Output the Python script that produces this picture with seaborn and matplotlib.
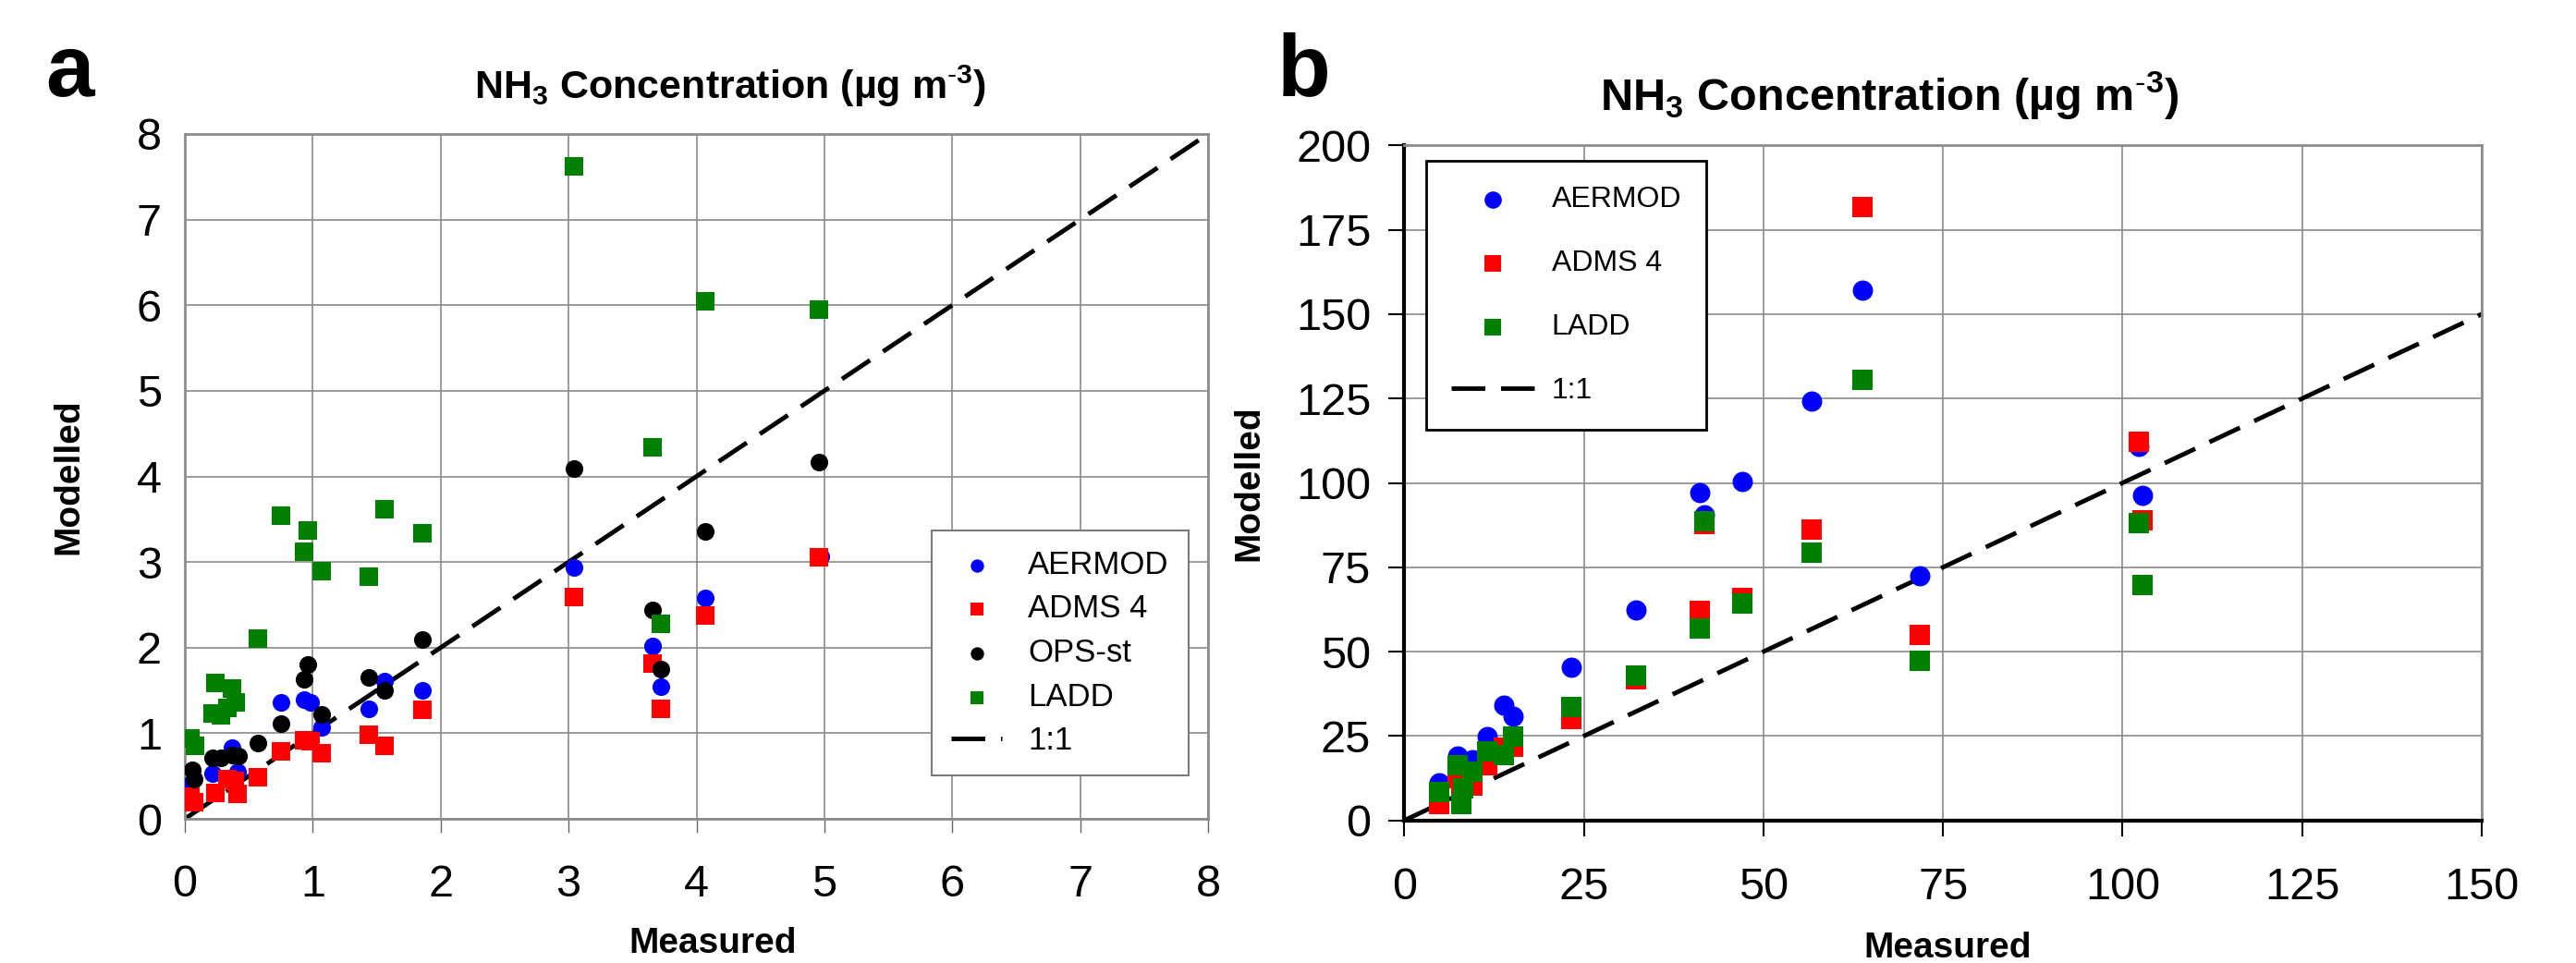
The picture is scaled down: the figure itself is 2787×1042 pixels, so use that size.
import numpy as np
import pandas as pd
import matplotlib
matplotlib.use("Agg")
import matplotlib.pyplot as plt
import seaborn as sns

# ---------------- Panel a data ----------------
a_aermod_x = [0.02, 0.22, 0.37, 0.41, 0.75, 0.93, 0.98, 1.07, 1.44, 1.56, 1.86, 3.04, 3.66, 3.72, 4.07, 4.97]
a_aermod_y = [0.39, 0.53, 0.83, 0.55, 1.36, 1.39, 1.36, 1.07, 1.28, 1.61, 1.50, 2.94, 2.02, 1.54, 2.58, 3.07]

a_adms_x = [0.04, 0.07, 0.24, 0.33, 0.39, 0.41, 0.57, 0.75, 0.93, 0.98, 1.07, 1.44, 1.56, 1.86, 3.04, 3.66, 3.72, 4.07, 4.96]
a_adms_y = [0.26, 0.19, 0.30, 0.46, 0.44, 0.29, 0.49, 0.79, 0.92, 0.91, 0.77, 0.98, 0.85, 1.27, 2.59, 1.81, 1.28, 2.37, 3.05]

a_ops_x = [0.06, 0.07, 0.22, 0.28, 0.37, 0.42, 0.57, 0.75, 0.93, 0.96, 1.07, 1.44, 1.56, 1.86, 3.04, 3.66, 3.72, 4.07, 4.96]
a_ops_y = [0.57, 0.46, 0.71, 0.71, 0.75, 0.73, 0.89, 1.11, 1.63, 1.80, 1.22, 1.65, 1.50, 2.09, 4.09, 2.44, 1.75, 3.36, 4.17]

a_ladd_x = [0.04, 0.08, 0.22, 0.24, 0.28, 0.33, 0.37, 0.40, 0.57, 0.75, 0.93, 0.96, 1.07, 1.44, 1.56, 1.86, 3.04, 3.66, 3.72, 4.07, 4.96]
a_ladd_y = [0.94, 0.85, 1.23, 1.59, 1.21, 1.30, 1.52, 1.36, 2.11, 3.54, 3.12, 3.37, 2.89, 2.83, 3.62, 3.34, 7.62, 4.34, 2.28, 6.05, 5.95]

# ---------------- Panel b data ----------------
b_measured = [4.8, 7.4, 8.0, 8.2, 9.5, 11.5, 13.8, 15.1, 23.2, 32.2, 41.2, 41.8, 47.0, 56.7, 63.8, 71.8, 102.2, 102.8]
b_aermod = [11.2, 19.0, 8.0, 12.0, 18.1, 24.9, 34.1, 30.9, 45.5, 62.3, 97.2, 90.6, 100.4, 124.3, 157.1, 72.5, 110.8, 96.4]
b_adms = [4.8, 12.6, 7.0, 11.2, 10.3, 16.3, 21.5, 21.7, 30.0, 41.8, 62.2, 87.8, 65.8, 86.2, 181.8, 54.9, 112.2, 88.9]
b_ladd = [8.5, 16.3, 4.8, 9.4, 14.4, 20.4, 19.4, 24.9, 33.6, 43.0, 56.9, 88.7, 64.2, 79.4, 130.4, 47.2, 88.1, 69.7]

a_ticks = [0, 1, 2, 3, 4, 5, 6, 7, 8]
b_xticks = [0, 25, 50, 75, 100, 125, 150]
b_yticks = [0, 25, 50, 75, 100, 125, 150, 175, 200]

title_text = r"NH$_\mathbf{3}$ Concentration (µg m$^\mathbf{\text{-}3}$)"

sns.set_theme(style="white")
plt.rcParams['font.family'] = ['Liberation Sans', 'DejaVu Sans']
plt.rcParams['mathtext.fontset'] = 'custom'
plt.rcParams['mathtext.bf'] = 'Liberation Sans:bold'
plt.rcParams['mathtext.rm'] = 'Liberation Sans'
for k in ['text.color', 'axes.labelcolor', 'xtick.color', 'ytick.color']:
    plt.rcParams[k] = 'black'

W, H = 2787, 1042
fig = plt.figure(figsize=(W / 100, H / 100), dpi=100)
fig.patch.set_facecolor('white')

BLUE, RED, BLACK, GREEN = '#0000FF', '#FF0000', '#000000', '#008000'
GRID = '#8a8a8a'
DASH = (7.5, 3.5)

# ---------------- Panel a ----------------
axa = fig.add_axes([200 / W, 1 - 886 / H, 1107 / W, 741 / H])
sa = 190
sns.scatterplot(x=a_aermod_x, y=a_aermod_y, ax=axa, color=BLUE, marker='o', s=sa, linewidth=0, label='AERMOD', zorder=3)
sns.scatterplot(x=a_adms_x, y=a_adms_y, ax=axa, color=RED, marker='s', s=sa, linewidth=0, label='ADMS 4', zorder=3)
sns.scatterplot(x=a_ops_x, y=a_ops_y, ax=axa, color=BLACK, marker='o', s=sa, linewidth=0, label='OPS-st', zorder=3)
sns.scatterplot(x=a_ladd_x, y=a_ladd_y, ax=axa, color=GREEN, marker='s', s=sa, linewidth=0, label='LADD', zorder=3)
axa.plot([a_ticks[0], a_ticks[-1]], [a_ticks[0], a_ticks[-1]], color='black', lw=3.5, dashes=DASH, label='1:1', zorder=2)
axa.set_xlim(0, 8)
axa.set_ylim(0, 8)
axa.set_xticks(a_ticks)
axa.set_yticks(a_ticks)
axa.grid(True, color=GRID, lw=1.2)
axa.set_axisbelow(True)
for sp in axa.spines.values():
    sp.set_color('#8c8c8c')
    sp.set_linewidth(2)
axa.tick_params(axis='x', direction='out', length=11, width=1, color='#666666', labelsize=35, pad=24, bottom=True)
axa.tick_params(axis='y', direction='out', length=0, labelsize=35, pad=18, left=True)
axa.set_xlabel('Measured', fontsize=28, fontweight='bold')
axa.set_ylabel('Modelled', fontsize=28, fontweight='bold')
axa.xaxis.set_label_coords(0.516, -0.158)
axa.yaxis.set_label_coords(-0.097, 0.5)
h, l = axa.get_legend_handles_labels()
lega = axa.legend(h, l, loc='upper left', bbox_to_anchor=(0.730, 0.421), borderaxespad=0,
                  fontsize=25, frameon=True, fancybox=False, edgecolor='#7a7a7a', framealpha=1,
                  handlelength=1.6, handletextpad=0.8, labelspacing=0.42, borderpad=0.6, markerscale=0.75)
lega.get_frame().set_linewidth(1.5)

# ---------------- Panel b ----------------
axb = fig.add_axes([1519.3 / W, 1 - 887.7 / H, 1165.7 / W, 730.4 / H])
sb = 250
sns.scatterplot(x=b_measured, y=b_aermod, ax=axb, color=BLUE, marker='o', s=sb, linewidth=0, label='AERMOD', zorder=3)
sns.scatterplot(x=b_measured, y=b_adms, ax=axb, color=RED, marker='s', s=sb, linewidth=0, label='ADMS 4', zorder=3)
sns.scatterplot(x=b_measured, y=b_ladd, ax=axb, color=GREEN, marker='s', s=sb, linewidth=0, label='LADD', zorder=3)
axb.plot([b_xticks[0], b_xticks[-1]], [b_xticks[0], b_xticks[-1]], color='black', lw=3.5, dashes=DASH, label='1:1', zorder=2)
axb.set_xlim(0, 150)
axb.set_ylim(0, 200)
axb.set_xticks(b_xticks)
axb.set_yticks(b_yticks)
axb.grid(True, color=GRID, lw=1.2)
axb.set_axisbelow(True)
for side in ['top', 'right']:
    axb.spines[side].set_color('#8c8c8c')
    axb.spines[side].set_linewidth(2)
for side in ['left', 'bottom']:
    axb.spines[side].set_color('black')
    axb.spines[side].set_linewidth(3)
axb.tick_params(axis='x', direction='out', length=12, width=1.5, color='black', labelsize=35, pad=24, bottom=True)
axb.tick_params(axis='y', direction='out', length=12, width=1.5, color='black', labelsize=35, pad=14, left=True)
axb.set_xlabel('Measured', fontsize=28, fontweight='bold')
axb.set_ylabel('Modelled', fontsize=28, fontweight='bold')
axb.xaxis.set_label_coords(0.504, -0.165)
axb.yaxis.set_label_coords(-0.129, 0.5)
h, l = axb.get_legend_handles_labels()
legb = axb.legend(h, l, loc='upper left', bbox_to_anchor=(0.0203, 0.977), borderaxespad=0,
                  fontsize=23, frameon=True, fancybox=False, edgecolor='black', framealpha=1,
                  handlelength=2.8, handletextpad=0.6, labelspacing=1.22, borderpad=0.85, markerscale=0.85)
legb.get_frame().set_linewidth(2)

# ---------------- Titles and panel letters ----------------
fig.text(790 / W, 1 - 107 / H, title_text, ha='center', va='baseline', fontsize=31, fontweight='bold')
fig.text(2044 / W, 1 - 120 / H, title_text, ha='center', va='baseline', fontsize=35, fontweight='bold')
fig.text(49 / W, 1 - 104 / H, 'a', ha='left', va='baseline', fontsize=68, fontweight='bold')
fig.text(1382 / W, 1 - 103 / H, 'b', ha='left', va='baseline', fontsize=68, fontweight='bold')

fig.savefig('out.png', dpi=100, facecolor='white')
